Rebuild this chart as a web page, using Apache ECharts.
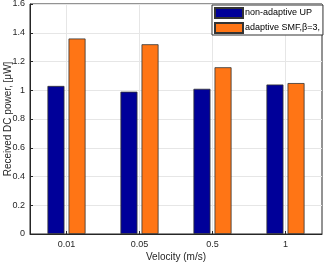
<!DOCTYPE html>
<html><head><meta charset="utf-8">
<script src="https://cdn.jsdelivr.net/npm/echarts@6/dist/echarts.min.js"></script>
<style>html,body{margin:0;padding:0;background:#fff}#c{width:324px;height:263px}</style>
</head><body><div id="c"></div>
<script>
const categories = ['0.01', '0.05', '0.5', '1'];
const nonAdaptiveUP = [1.03, 0.99, 1.01, 1.04];
const adaptiveSMF = [1.36, 1.32, 1.16, 1.05];
const yTicks = [0, 0.2, 0.4, 0.6, 0.8, 1, 1.2, 1.4, 1.6];

const chart = echarts.init(document.getElementById('c'));
const font = 'Liberation Sans, Arial, sans-serif';
chart.setOption({
  animation: false,
  textStyle: { fontFamily: font },
  grid: { left: 30, right: 2, top: 4, bottom: 29, outerBoundsMode: 'none', containLabel: false,
    show: true, borderColor: '#262626', borderWidth: 1 },
  legend: {
    left: 212, top: 5, orient: 'vertical', itemWidth: 28, itemHeight: 10, itemGap: 3, icon: 'rect',
    padding: [2, 3, 1, 2], borderColor: '#333', borderWidth: 1, backgroundColor: '#fff', borderRadius: 0,
    textStyle: { fontSize: 9, color: '#000', fontFamily: font, padding: [0, 0, 0, -3] },
    data: ['non-adaptive UP', 'adaptive SMF,β=3,']
  },
  xAxis: {
    type: 'category', data: categories,
    name: 'Velocity (m/s)', nameLocation: 'middle', nameGap: 18.5, nameMoveOverlap: false,
    nameTextStyle: { fontSize: 10, color: '#262626' },
    axisLine: { lineStyle: { color: '#262626' } },
    axisTick: { show: true, alignWithLabel: true, length: -3, lineStyle: { color: '#262626' } },
    axisLabel: { fontSize: 9, color: '#262626', margin: 6 },
    splitLine: { show: true, alignWithLabel: true, lineStyle: { color: '#e6e6e6' } }
  },
  yAxis: {
    type: 'value', min: 0, max: 1.6, interval: 0.2,
    name: 'Received DC power, [μW]', nameLocation: 'middle', nameGap: 17, nameMoveOverlap: false,
    nameTextStyle: { fontSize: 10, color: '#262626' },
    axisLine: { show: true, lineStyle: { color: '#262626' } },
    axisTick: { show: true, length: -3, lineStyle: { color: '#262626' } },
    axisLabel: { fontSize: 9, color: '#262626', margin: 5,
      formatter: v => { const t = yTicks.find(x => Math.abs(x - v) < 1e-9); return t === undefined ? '' : String(t); } },
    splitLine: { show: true, lineStyle: { color: '#e6e6e6' } }
  },
  series: [
    { name: 'non-adaptive UP', type: 'bar', data: nonAdaptiveUP, barWidth: 17, barGap: '24%',
      itemStyle: { color: '#000099', borderColor: '#333', borderWidth: 0.8 } },
    { name: 'adaptive SMF,β=3,', type: 'bar', data: adaptiveSMF, barWidth: 17,
      itemStyle: { color: '#ff7515', borderColor: '#333', borderWidth: 0.8 } }
  ]
});
</script></body></html>
